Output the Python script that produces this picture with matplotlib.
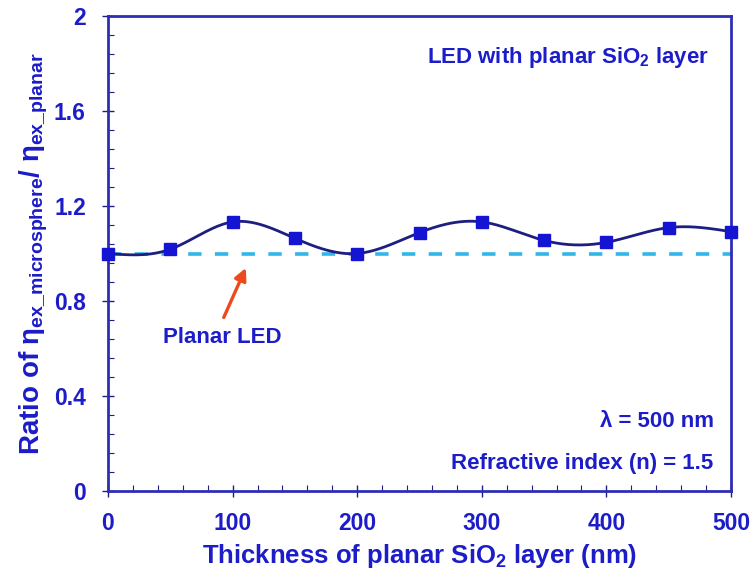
import numpy as np
import matplotlib
matplotlib.use("Agg")
import matplotlib.pyplot as plt

# ---- data ----
thickness = [0, 50, 100, 150, 200, 250, 300, 350, 400, 450, 500]
ratio = [1.00, 1.018, 1.133, 1.064, 1.00, 1.088, 1.133, 1.055, 1.047, 1.109, 1.092]
planar_level = [1.0, 1.0]
planar_x = [0, 500]
xticks = [0, 100, 200, 300, 400, 500]
yticks = [0, 0.4, 0.8, 1.2, 1.6, 2.0]
ytick_labels = ["0", "0.4", "0.8", "1.2", "1.6", "2"]

plt.rcParams['font.family'] = ['Liberation Sans', 'DejaVu Sans']
plt.rcParams['font.weight'] = 'bold'
plt.rcParams['mathtext.fontset'] = 'custom'
plt.rcParams['mathtext.rm'] = 'Liberation Sans:bold'
plt.rcParams['mathtext.it'] = 'Liberation Sans:bold'
plt.rcParams['mathtext.bf'] = 'Liberation Sans:bold'

TXT = '#1c1cc8'
NAVY = '#1e1e80'
SPINE = '#2e2eb4'


def natural_spline(x, y, n=400):
    x = np.asarray(x, float); y = np.asarray(y, float)
    k = len(x); h = np.diff(x)
    A = np.zeros((k, k)); b = np.zeros(k)
    A[0, 0] = A[-1, -1] = 1
    for i in range(1, k - 1):
        A[i, i - 1] = h[i - 1]; A[i, i] = 2 * (h[i - 1] + h[i]); A[i, i + 1] = h[i]
        b[i] = 3 * ((y[i + 1] - y[i]) / h[i] - (y[i] - y[i - 1]) / h[i - 1])
    c = np.linalg.solve(A, b)
    xs = np.linspace(x[0], x[-1], n); ys = np.empty_like(xs)
    for j, xv in enumerate(xs):
        i = min(np.searchsorted(x, xv, side='right') - 1, k - 2)
        dx = xv - x[i]
        bi = (y[i + 1] - y[i]) / h[i] - h[i] * (c[i + 1] + 2 * c[i]) / 3
        di = (c[i + 1] - c[i]) / (3 * h[i])
        ys[j] = y[i] + bi * dx + c[i] * dx ** 2 + di * dx ** 3
    return xs, ys


fig = plt.figure(figsize=(7.55, 5.73), dpi=100)
ax = fig.add_axes([108 / 755, 82 / 573, 623 / 755, 475 / 573])

ax.plot(planar_x, planar_level, linestyle=(0, (3.7, 3.7)), color='#30b6e8', lw=2.6, zorder=2)
xs, ys = natural_spline(thickness, ratio)
ax.plot(xs, ys, color=NAVY, lw=2, zorder=3)
ax.plot(thickness, ratio, linestyle='none', marker='s', ms=8.5, color='#1414d2',
        mec='#1414d2', zorder=4, clip_on=False)

ax.set_xlim(0, 500)
ax.set_ylim(0, 2)
ax.set_xticks(xticks)
ax.set_yticks(yticks)
ax.set_yticklabels(ytick_labels)
ax.set_xticks(np.arange(0, 501, 20), minor=True)
ax.set_yticks(np.arange(0, 2.001, 0.08), minor=True)
ax.tick_params(which='major', direction='inout', length=8, width=1, color=NAVY,
               labelsize=16.5, labelcolor=TXT)
ax.tick_params(axis='y', which='major', pad=12)
ax.tick_params(axis='x', which='major', pad=11)
ax.tick_params(which='minor', direction='in', length=4, width=0.8, color=NAVY)
for s in ax.spines.values():
    s.set_color(SPINE)
    s.set_linewidth(2)

ax.set_xlabel(r'Thickness of planar SiO$_2$ layer (nm)', fontsize=18.5, color=TXT,
              fontweight='bold', labelpad=5)
ax.set_ylabel(r'Ratio of $\eta_{\rm ex\_microsphere}$/ $\eta_{\rm ex\_planar}$', fontsize=20,
              color=TXT, fontweight='bold', labelpad=3)

ax.text(0.965, 0.912, r'LED with planar SiO$_2$ layer', transform=ax.transAxes, ha='right',
        va='center', fontsize=16, color=TXT, fontweight='bold')
ax.text(0.972, 0.146, r'λ = 500 nm', transform=ax.transAxes, ha='right',
        va='center', fontsize=16, color=TXT, fontweight='bold')
ax.text(0.972, 0.057, 'Refractive index (n) = 1.5', transform=ax.transAxes, ha='right',
        va='center', fontsize=16, color=TXT, fontweight='bold')
ax.text(44, 0.646, 'Planar LED', ha='left', va='center', fontsize=16, color=TXT,
        fontweight='bold')
ax.annotate('', xy=(111.5, 0.95), xytext=(92, 0.72),
            arrowprops=dict(arrowstyle='-|>', color='#ec4a1c', lw=2.4, mutation_scale=18))

fig.savefig('out.png', dpi=100)
